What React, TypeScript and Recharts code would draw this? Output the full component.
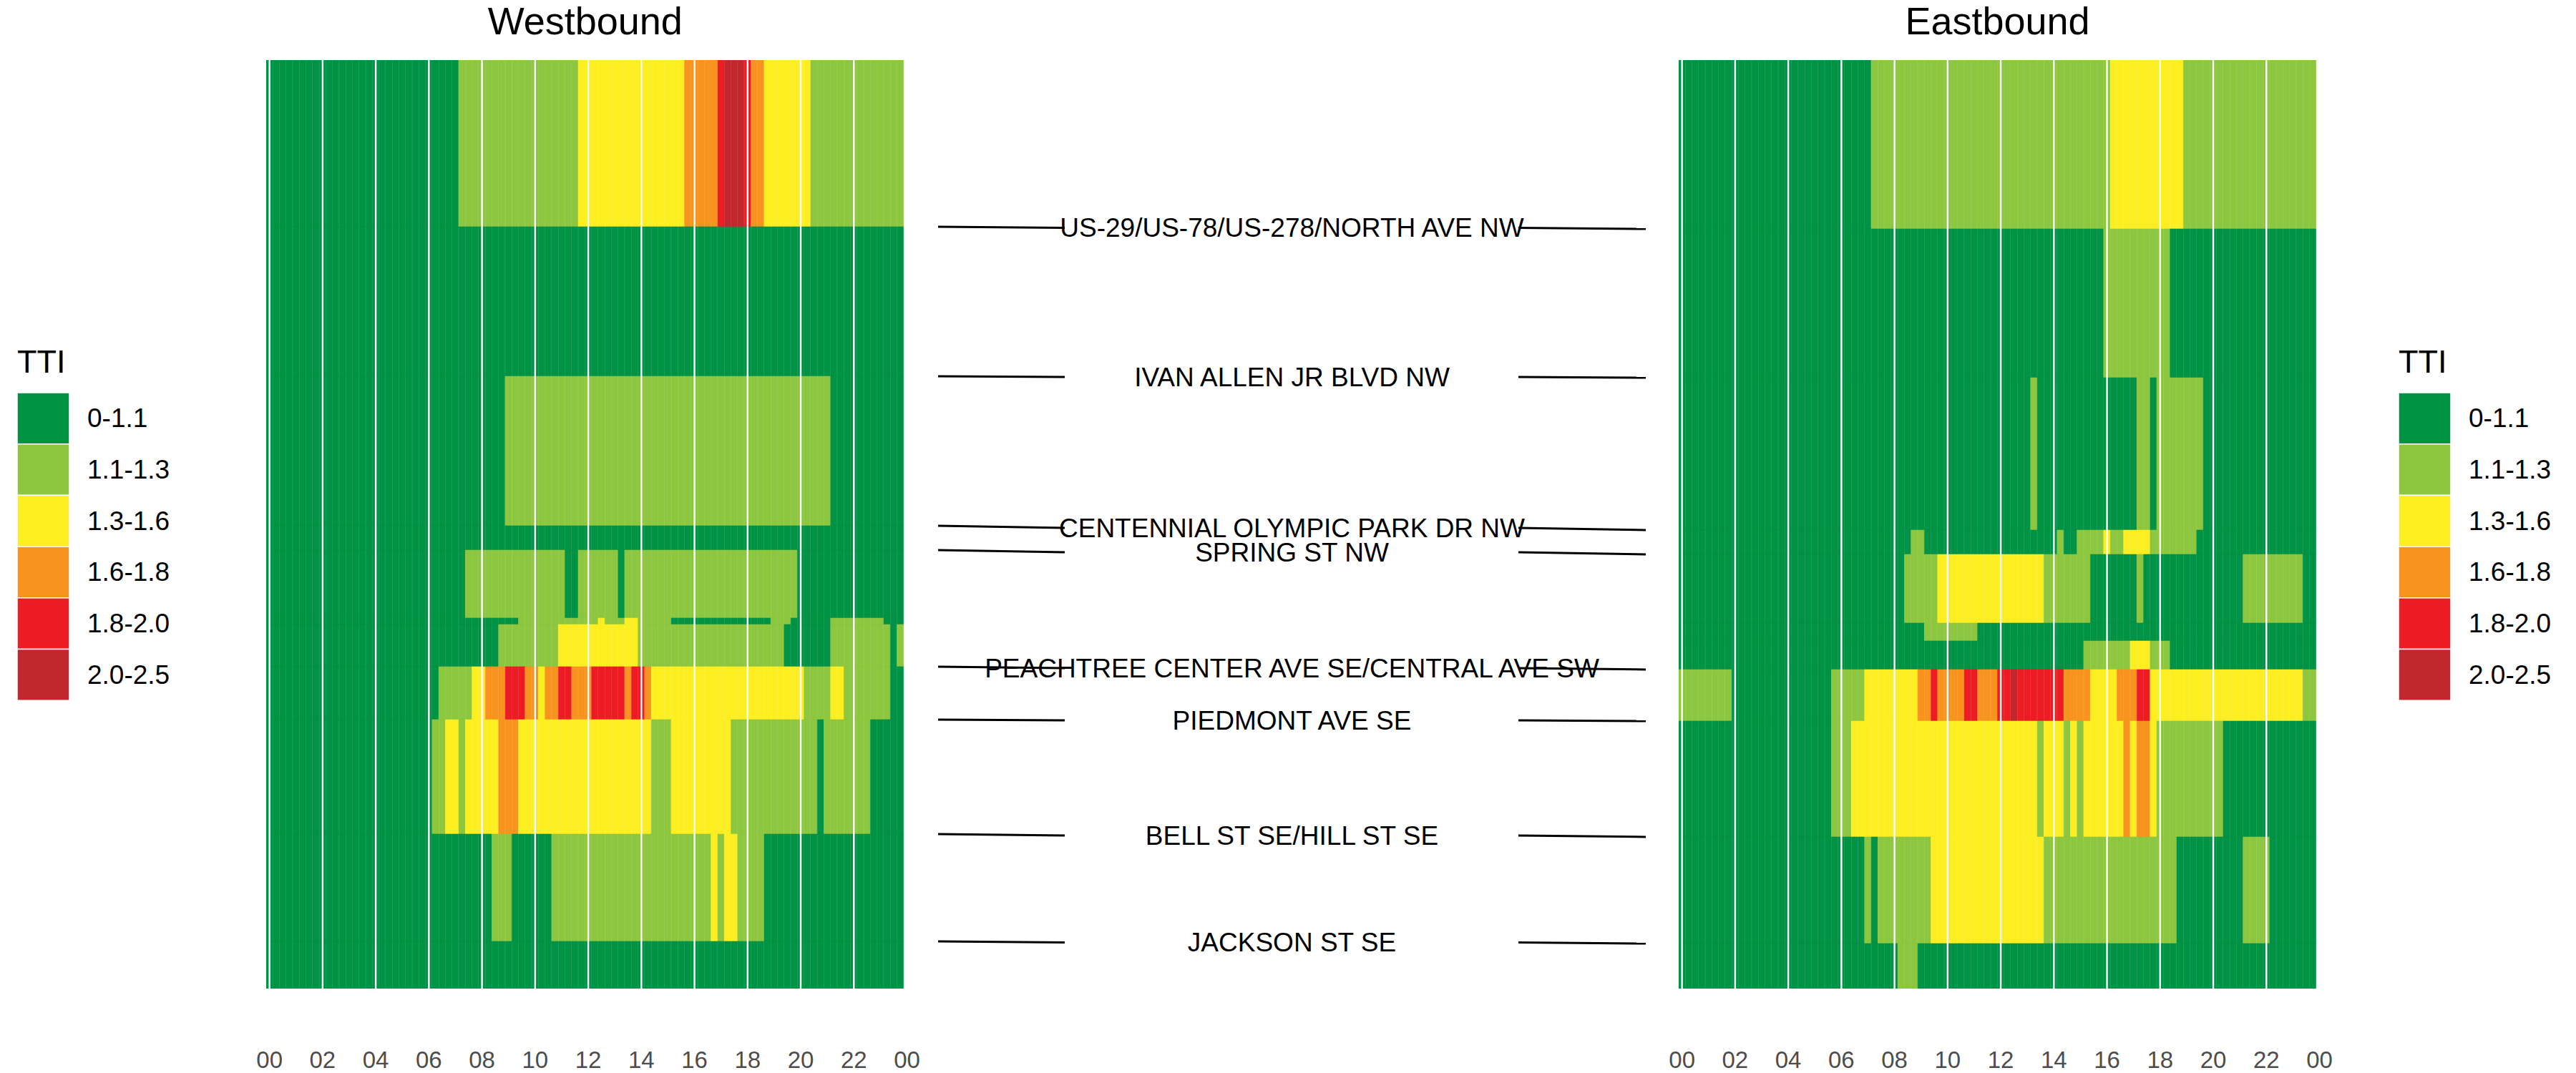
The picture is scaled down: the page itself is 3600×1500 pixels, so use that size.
import React from "react";
import { BarChart, Bar, Cell, XAxis, YAxis, ReferenceLine, ScatterChart, Scatter } from "recharts";

const FONT = "'Liberation Sans', Arial, Helvetica, sans-serif";

// TTI classes
const TTI_BINS = ["0-1.1", "1.1-1.3", "1.3-1.6", "1.6-1.8", "1.8-2.0", "2.0-2.5"];
const TTI_COLORS = ["#009245", "#8dc63f", "#fcee21", "#f7931e", "#ed1c24", "#c1272d"];

const HOUR_TICKS = [0, 2, 4, 6, 8, 10, 12, 14, 16, 18, 20, 22, 24];

// segment lengths (mi), top of the plot to the bottom
const WEST_LEN = [0.233, 0.209, 0.209, 0.034, 0.095, 0.009, 0.059, 0.074, 0.16, 0.15, 0.066];
const EAST_LEN = [0.236, 0.208, 0.213, 0.034, 0.096, 0.025, 0.04, 0.072, 0.162, 0.149, 0.063];

// TTI class per 15-min slot, 00:00 .. 23:45, one string per segment (one group = one hour)
const WEST_TTI = [
  "0000 0000 0000 0000 0000 0000 0000 0111 1111 1111 1111 1112 2222 2222 2222 2223 3333 4555 4332 2222 2211 1111 1111 1111",
  "0000 0000 0000 0000 0000 0000 0000 0000 0000 0000 0000 0000 0000 0000 0000 0000 0000 0000 0000 0000 0000 0000 0000 0000",
  "0000 0000 0000 0000 0000 0000 0000 0000 0000 1111 1111 1111 1111 1111 1111 1111 1111 1111 1111 1111 1111 1000 0000 0000",
  "0000 0000 0000 0000 0000 0000 0000 0000 0000 0000 0000 0000 0000 0000 0000 0000 0000 0000 0000 0000 0000 0000 0000 0000",
  "0000 0000 0000 0000 0000 0000 0000 0011 1111 1111 1111 1001 1111 1011 1111 1111 1111 1111 1111 1111 0000 0000 0000 0000",
  "0000 0000 0000 0000 0000 0000 0000 0000 0000 0011 1111 1111 1121 1122 1111 1000 0000 0000 0000 1110 0000 0111 1111 1000",
  "0000 0000 0000 0000 0000 0000 0000 0000 0001 1111 1111 2222 2222 2222 1111 1111 1111 1111 1111 1100 0000 0111 1111 1101",
  "0000 0000 0000 0000 0000 0000 0011 1112 2333 4443 3233 4433 3444 4434 4322 2222 2222 2222 2222 2222 2111 1221 1111 1100",
  "0000 0000 0000 0000 0000 0000 0112 2122 2223 3322 2222 2222 2222 2222 2211 1222 2222 2211 1111 1111 1110 1111 1110 0000",
  "0000 0000 0000 0000 0000 0000 0000 0000 0011 1000 0001 1111 1111 1111 1111 1111 1112 1221 1110 0000 0000 0000 0000 0000",
  "0000 0000 0000 0000 0000 0000 0000 0000 0000 0000 0000 0000 0000 0000 0000 0000 0000 0000 0000 0000 0000 0000 0000 0000",
];

const EAST_TTI = [
  "0000 0000 0000 0000 0000 0000 0000 0111 1111 1111 1111 1111 1111 1111 1111 1111 1222 2222 2222 1111 1111 1111 1111 1111",
  "0000 0000 0000 0000 0000 0000 0000 0000 0000 0000 0000 0000 0000 0000 0000 0000 1111 1111 1100 0000 0000 0000 0000 0000",
  "0000 0000 0000 0000 0000 0000 0000 0000 0000 0000 0000 0000 0000 0100 0000 0000 0000 0110 1111 1110 0000 0000 0000 0000",
  "0000 0000 0000 0000 0000 0000 0000 0000 0001 1000 0000 0000 0000 0000 0100 1111 2112 2221 1111 1100 0000 0000 0000 0000",
  "0000 0000 0000 0000 0000 0000 0000 0000 0011 1112 2222 2222 2222 2221 1111 1100 0000 0100 0000 0000 0000 0111 1111 1100",
  "0000 0000 0000 0000 0000 0000 0000 0000 0000 0111 1111 1000 0000 0000 0000 0000 0000 0000 0000 0000 0000 0000 0000 0000",
  "0000 0000 0000 0000 0000 0000 0000 0000 0000 0000 0000 0000 0000 0000 0000 0111 1111 2221 1100 0000 0000 0000 0000 0000",
  "1111 1111 0000 0000 0000 0001 1111 2222 2222 3343 3334 4333 4454 4444 4433 3322 2233 3442 2222 2222 2222 2222 2222 2211",
  "0000 0000 0000 0000 0000 0001 1122 2222 2222 2222 2222 2222 2222 2212 2212 1222 2223 2332 1111 1111 1100 0000 0000 0000",
  "0000 0000 0000 0000 0000 0000 0000 1011 1111 1122 2222 2222 2222 2221 1111 1111 1111 1111 1110 0000 0000 0111 1000 0000",
  "0000 0000 0000 0000 0000 0000 0000 0000 0111 0000 0000 0000 0000 0000 0000 0000 0000 0000 0000 0000 0000 0000 0000 0000",
];

// cross streets and the segment boundary they sit on
const CROSS_STREETS = [
  "US-29/US-78/US-278/NORTH AVE NW",
  "IVAN ALLEN JR BLVD NW",
  "CENTENNIAL OLYMPIC PARK DR NW",
  "SPRING ST NW",
  "PEACHTREE CENTER AVE SE/CENTRAL AVE SW",
  "PIEDMONT AVE SE",
  "BELL ST SE/HILL ST SE",
  "JACKSON ST SE",
];
const CROSS_AFTER_SEG = [1, 2, 3, 4, 7, 8, 9, 10];

// layout
const PLOT_TOP = 84;
const PLOT_H = 1298;
const AXIS_H = 130;
const SIDE = 40; // room for the edge tick labels
const HOUR_PX = 37.12;
const X_DOMAIN: [number, number] = [-0.125, 24.125];
const PLOT_W = (X_DOMAIN[1] - X_DOMAIN[0]) * HOUR_PX;
const WEST_X0 = 377;
const EAST_X0 = 2350.7;
const MID_LEFT = 1311;
const MID_W = 989;

const sum = (a: number[]) => a.reduce((s, v) => s + v, 0);
const cum = (a: number[], n: number) => sum(a.slice(0, n));

function buildTable(lens: number[], tti: string[]) {
  const rows = tti.map((s) => s.replace(/ /g, ""));
  return rows[0].split("").map((_, k) => {
    const d: Record<string, number> = { t: k / 4 };
    lens.forEach((len, i) => {
      d[`s${i}`] = len;
      d[`c${i}`] = Number(rows[i][k]);
    });
    return d;
  });
}

const HourTick = (props: any) => {
  const { x, y, payload } = props;
  return (
    <text x={x} y={y + 111} textAnchor="middle" fontSize={33} fill="#4d4d4d" fontFamily={FONT}>
      {String(payload.value % 24).padStart(2, "0")}
    </text>
  );
};

function Panel({ lens, tti, x0 }: { lens: number[]; tti: string[]; x0: number }) {
  const data = buildTable(lens, tti);
  const total = sum(lens);
  return (
    <div style={{ position: "absolute", left: x0 + X_DOMAIN[0] * HOUR_PX - SIDE, top: PLOT_TOP }}>
      <BarChart
        width={PLOT_W + 2 * SIDE}
        height={PLOT_H + AXIS_H}
        data={data}
        margin={{ top: 0, right: SIDE, bottom: 0, left: SIDE }}
        barCategoryGap={0}
        barGap={0}
      >
        <XAxis
          type="number"
          dataKey="t"
          domain={X_DOMAIN}
          ticks={HOUR_TICKS}
          interval={0}
          tick={<HourTick />}
          tickLine={false}
          axisLine={false}
          tickSize={0}
          tickMargin={0}
          height={AXIS_H}
          allowDataOverflow
        />
        <YAxis type="number" domain={[0, total]} reversed hide allowDataOverflow />
        {lens.map((_, i) => (
          <Bar key={i} dataKey={`s${i}`} stackId="road" isAnimationActive={false}>
            {data.map((d, k) => (
              <Cell key={k} fill={TTI_COLORS[d[`c${i}`]]} stroke={TTI_COLORS[d[`c${i}`]]} strokeWidth={0.6} />
            ))}
          </Bar>
        ))}
        {HOUR_TICKS.slice(0, -1).map((h) => (
          <ReferenceLine key={h} x={h} stroke="#ffffff" strokeWidth={2.4} />
        ))}
      </BarChart>
    </div>
  );
}

const StreetLabel = (props: any) => {
  const { cx, cy, payload } = props;
  return (
    <text x={cx} y={cy} textAnchor="middle" dominantBaseline="central" fontSize={37} fill="#000" fontFamily={FONT}>
      {payload.name}
    </text>
  );
};

function Crossings() {
  const total = sum(WEST_LEN);
  const rows = CROSS_STREETS.map((name, i) => {
    const w = cum(WEST_LEN, CROSS_AFTER_SEG[i]);
    const e = cum(EAST_LEN, CROSS_AFTER_SEG[i]);
    return { name, w, e, x: 0.5, y: (w + e) / 2 };
  });
  const lines = rows.flatMap((r, i) => [
    <ReferenceLine
      key={`l${i}`}
      segment={[{ x: 0, y: r.w }, { x: 0.179, y: r.y }]}
      stroke="#000"
      strokeWidth={3}
    />,
    <ReferenceLine
      key={`r${i}`}
      segment={[{ x: 0.82, y: r.y }, { x: 1, y: r.e }]}
      stroke="#000"
      strokeWidth={3}
    />,
  ]);
  return (
    <div style={{ position: "absolute", left: MID_LEFT, top: PLOT_TOP }}>
      <ScatterChart width={MID_W} height={PLOT_H} margin={{ top: 0, right: 0, bottom: 0, left: 0 }}>
        <XAxis type="number" dataKey="x" domain={[0, 1]} hide allowDataOverflow />
        <YAxis type="number" dataKey="y" domain={[0, total]} reversed hide allowDataOverflow />
        {lines}
        <Scatter data={rows} isAnimationActive={false} shape={<StreetLabel />} />
      </ScatterChart>
    </div>
  );
}

function Legend({ left }: { left: number }) {
  const keyH = 71.7;
  return (
    <g transform={`translate(${left},0)`}>
      <text x={0} y={521} fontSize={45} fill="#000" fontFamily={FONT}>
        TTI
      </text>
      {TTI_BINS.map((b, i) => (
        <g key={b}>
          <rect x={0} y={549 + i * keyH} width={73} height={keyH} fill={TTI_COLORS[i]} stroke="#fff" strokeWidth={1.5} />
          <text x={98} y={549 + i * keyH + keyH / 2} dominantBaseline="central" fontSize={37} fill="#000" fontFamily={FONT}>
            {b}
          </text>
        </g>
      ))}
    </g>
  );
}

export default function App() {
  return (
    <div style={{ position: "absolute", left: 0, top: 0, width: 3600, height: 1500, background: "#fff", overflow: "hidden" }}>
      <svg width={3600} height={1500} style={{ position: "absolute", left: 0, top: 0 }}>
        <text x={WEST_X0 + 11.875 * HOUR_PX} y={48} textAnchor="middle" fontSize={54} fill="#000" fontFamily={FONT}>
          Westbound
        </text>
        <text x={EAST_X0 + 11.875 * HOUR_PX} y={48} textAnchor="middle" fontSize={54} fill="#000" fontFamily={FONT}>
          Eastbound
        </text>
        <Legend left={24} />
        <Legend left={3352} />
      </svg>
      <Panel lens={WEST_LEN} tti={WEST_TTI} x0={WEST_X0} />
      <Crossings />
      <Panel lens={EAST_LEN} tti={EAST_TTI} x0={EAST_X0} />
    </div>
  );
}
